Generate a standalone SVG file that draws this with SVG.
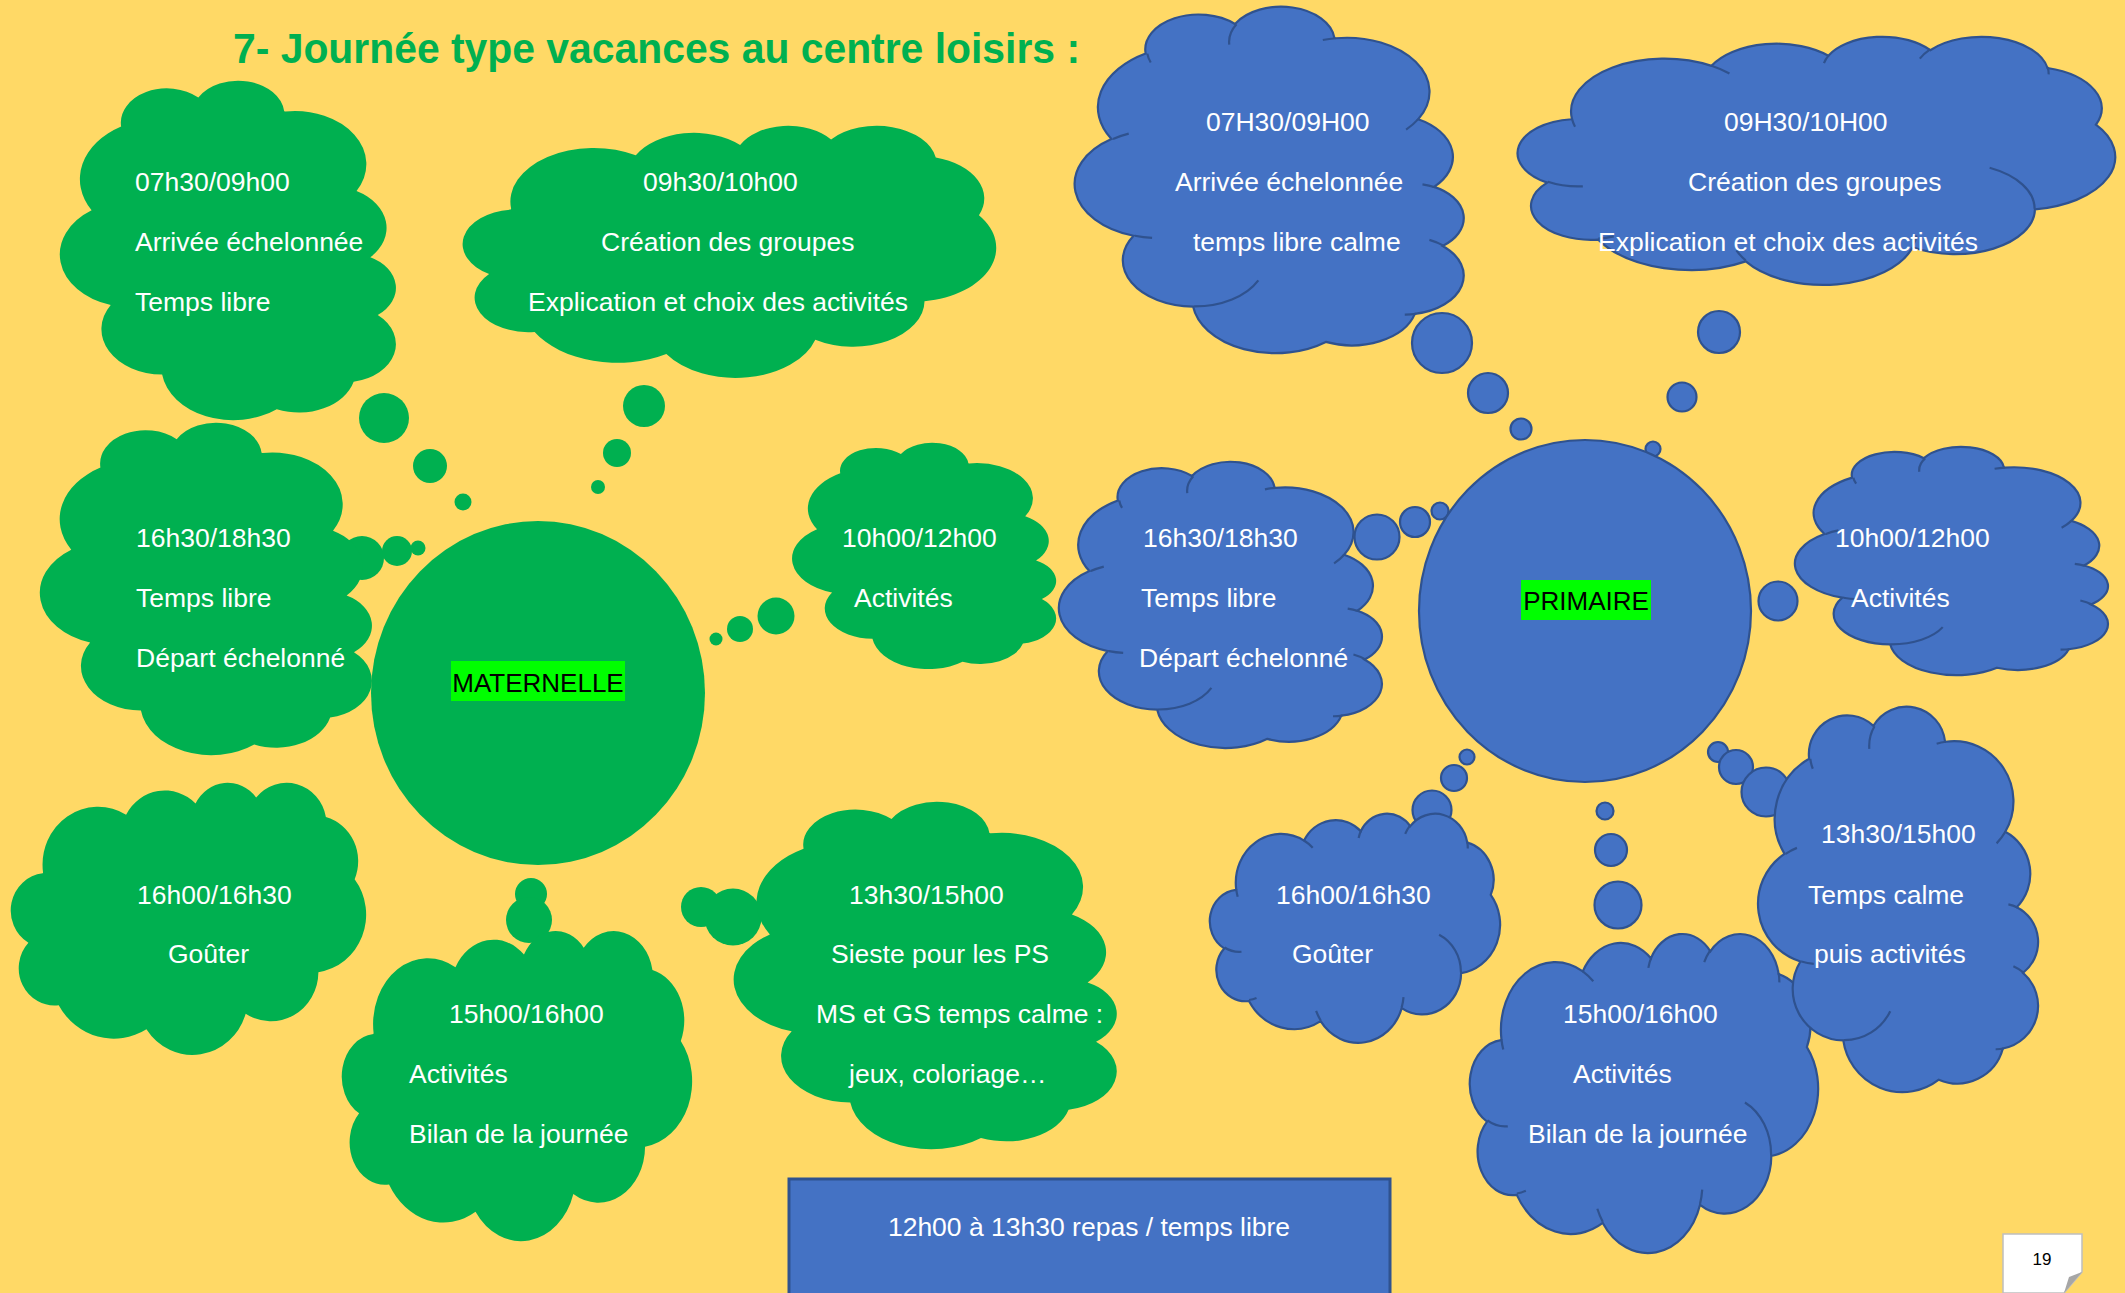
<svg xmlns="http://www.w3.org/2000/svg" xmlns:xlink="http://www.w3.org/1999/xlink" width="2125" height="1293" viewBox="0 0 2125 1293">
<defs>
<style>
.g{fill:#00B050}
.b{fill:#4472C4;stroke:#2F528F;stroke-width:2.2}
.bin{fill:none;stroke:#2F528F;stroke-width:2.2}
.t{font-family:"Liberation Sans",Arial,sans-serif;font-size:26.5px;fill:#FFFFFF}
.lbl{font-family:"Liberation Sans",Arial,sans-serif;font-size:26px;fill:#000000}
.hl{fill:#00FF00}
</style>
<path id="cloud" vector-effect="non-scaling-stroke" d="M9.03 33.26A15.63 21.27 0 0 1 32.42 12.04A12.35 16.82 0 0 1 51.99 7.94A10.10 13.76 0 0 1 69.06 5.73A11.24 15.27 0 0 1 88.70 12.90A12.35 16.84 0 0 1 96.80 35.78A15.68 21.34 0 0 1 86.59 69.90A13.39 18.21 0 0 1 66.10 85.20A15.63 21.33 0 0 1 38.15 90.89A17.87 24.41 0 0 1 13.44 82.10A10.09 13.70 0 0 1 4.90 59.13A10.06 13.76 0 0 1 8.95 33.57Z"/>
<path id="cloudIn" vector-effect="non-scaling-stroke" d="M10.86 60.60A10.06 13.76 0 0 1 5.00 58.75M16.04 80.79A10.09 13.70 0 0 1 13.47 81.67M38.14 90.49A15.63 21.33 0 0 1 36.59 86.45M66.73 80.44A15.63 21.33 0 0 1 66.11 84.86M79.00 53.13A13.39 18.21 0 0 1 86.53 69.65M88.71 12.56A11.24 15.27 0 0 1 88.89 15.48M67.31 9.15A11.24 15.27 0 0 1 69.03 5.41M51.25 10.93A10.10 13.76 0 0 1 52.08 7.71M32.41 12.02A15.63 21.27 0 0 1 35.42 15.14M9.55 36.55A15.63 21.27 0 0 1 9.03 33.26"/>
</defs>
<rect x="0" y="0" width="2125" height="1293" fill="#FFD966"/>
<text x="233" y="63" textLength="847" lengthAdjust="spacingAndGlyphs" style="font-family:'Liberation Sans',Arial,sans-serif;font-size:42px;font-weight:bold;fill:#00B050">7- Journée type vacances au centre loisirs :</text>

<g id="connectors">
<circle class="g" cx="384" cy="418" r="25"/>
<circle class="g" cx="430" cy="466" r="17"/>
<circle class="g" cx="463" cy="502" r="8.5"/>
<circle class="g" cx="644" cy="406" r="21"/>
<circle class="g" cx="617" cy="453" r="14"/>
<circle class="g" cx="598" cy="487" r="7"/>
<circle class="g" cx="362" cy="558" r="22"/>
<circle class="g" cx="397" cy="551" r="15"/>
<circle class="g" cx="418" cy="548" r="7.5"/>
<circle class="g" cx="776" cy="616" r="18.5"/>
<circle class="g" cx="740" cy="629" r="13"/>
<circle class="g" cx="716" cy="639" r="6.5"/>
<circle class="g" cx="308" cy="847" r="19"/>
<circle class="g" cx="328" cy="837" r="13.5"/>
<circle class="g" cx="531" cy="894" r="16"/>
<circle class="g" cx="529" cy="920" r="23"/>
<circle class="g" cx="701" cy="907" r="20"/>
<circle class="g" cx="733" cy="917" r="28.5"/>
<circle class="b" cx="1442" cy="343" r="30"/>
<circle class="b" cx="1488" cy="393" r="20"/>
<circle class="b" cx="1521" cy="429" r="10.5"/>
<circle class="b" cx="1719" cy="332" r="21"/>
<circle class="b" cx="1682" cy="397" r="14.5"/>
<circle class="b" cx="1653" cy="449" r="7.5"/>
<circle class="b" cx="1377" cy="537" r="22.5"/>
<circle class="b" cx="1415" cy="522" r="15"/>
<circle class="b" cx="1440" cy="511" r="8.5"/>
<circle class="b" cx="1778" cy="601" r="19.5"/>
<circle class="b" cx="1718" cy="752" r="10"/>
<circle class="b" cx="1736" cy="767" r="17"/>
<circle class="b" cx="1766" cy="792" r="24.5"/>
<circle class="b" cx="1467" cy="757" r="7.5"/>
<circle class="b" cx="1454" cy="778" r="13"/>
<circle class="b" cx="1432" cy="810" r="19.5"/>
<circle class="b" cx="1605" cy="811" r="8.5"/>
<circle class="b" cx="1611" cy="850" r="16"/>
<circle class="b" cx="1618" cy="905" r="23.5"/>
</g>

<g id="g-0730">
<use xlink:href="#cloud" class="g" transform="translate(397,81) rotate(90) scale(3.39,3.36)"/>
<text class="t" x="135" y="191">07h30/09h00</text>
<text class="t" x="135" y="251">Arrivée échelonnée</text>
<text class="t" x="135" y="311">Temps libre</text>
</g>
<g id="g-0930">
<use xlink:href="#cloud" class="g" transform="translate(463,125) scale(5.33,2.52)"/>
<text class="t" x="643" y="191">09h30/10h00</text>
<text class="t" x="601" y="251">Création des groupes</text>
<text class="t" x="528" y="311">Explication et choix des activités</text>
</g>
<g id="g-1630">
<use xlink:href="#cloud" class="g" transform="translate(373,423) rotate(90) scale(3.32,3.32)"/>
<text class="t" x="136" y="547">16h30/18h30</text>
<text class="t" x="136" y="607">Temps libre</text>
<text class="t" x="136" y="667">Départ échelonné</text>
</g>
<g id="maternelle">
<ellipse class="g" cx="538" cy="693" rx="167" ry="172"/>
<rect class="hl" x="451" y="661" width="174" height="40"/>
<text class="lbl" x="538" y="692" text-anchor="middle">MATERNELLE</text>
</g>
<g id="g-1000">
<use xlink:href="#cloud" class="g" transform="translate(1057,443) rotate(90) scale(2.26,2.64)"/>
<text class="t" x="842" y="547">10h00/12h00</text>
<text class="t" x="854" y="607">Activités</text>
</g>
<g id="g-1600">
<use xlink:href="#cloud" class="g" transform="translate(11,782) scale(3.55,2.72)"/>
<text class="t" x="137" y="904">16h00/16h30</text>
<text class="t" x="168" y="963">Goûter</text>
</g>
<g id="g-1500">
<use xlink:href="#cloud" class="g" transform="translate(342,930) scale(3.50,3.10)"/>
<text class="t" x="449" y="1023">15h00/16h00</text>
<text class="t" x="409" y="1083">Activités</text>
<text class="t" x="409" y="1143">Bilan de la journée</text>
</g>
<g id="g-1330">
<use xlink:href="#cloud" class="g" transform="translate(1118,802) rotate(90) scale(3.47,3.83)"/>
<text class="t" x="849" y="904">13h30/15h00</text>
<text class="t" x="831" y="963">Sieste pour les PS</text>
<text class="t" x="816" y="1023">MS et GS temps calme :</text>
<text class="t" x="849" y="1083">jeux, coloriage…</text>
</g>
<g id="repas">
<rect x="789" y="1179" width="601" height="125" fill="#4472C4" stroke="#2F528F" stroke-width="3"/>
<text class="t" x="1089" y="1236" text-anchor="middle">12h00 à 13h30 repas / temps libre</text>
</g>

<g id="b-0730">
<use xlink:href="#cloud" class="b" transform="translate(1465,7) rotate(90) scale(3.46,3.89)"/>
<use xlink:href="#cloudIn" class="bin" transform="translate(1465,7) rotate(90) scale(3.46,3.89)"/>
<text class="t" x="1206" y="131">07H30/09H00</text>
<text class="t" x="1175" y="191">Arrivée échelonnée</text>
<text class="t" x="1193" y="251">temps libre calme</text>
</g>
<g id="b-0930">
<use xlink:href="#cloud" class="b" transform="translate(1518,36) scale(5.97,2.48)"/>
<use xlink:href="#cloudIn" class="bin" transform="translate(1518,36) scale(5.97,2.48)"/>
<text class="t" x="1724" y="131">09H30/10H00</text>
<text class="t" x="1688" y="191">Création des groupes</text>
<text class="t" x="1598" y="251">Explication et choix des activités</text>
</g>
<g id="primaire">
<ellipse class="b" cx="1585" cy="611" rx="166" ry="171"/>
<rect class="hl" x="1521" y="580" width="130" height="40"/>
<text class="lbl" x="1586" y="610" text-anchor="middle">PRIMAIRE</text>
</g>
<g id="b-1630">
<use xlink:href="#cloud" class="b" transform="translate(1383,462) rotate(90) scale(2.86,3.23)"/>
<use xlink:href="#cloudIn" class="bin" transform="translate(1383,462) rotate(90) scale(2.86,3.23)"/>
<text class="t" x="1143" y="547">16h30/18h30</text>
<text class="t" x="1141" y="607">Temps libre</text>
<text class="t" x="1139" y="667">Départ échelonné</text>
</g>
<g id="b-1000">
<use xlink:href="#cloud" class="b" transform="translate(2109,447) rotate(90) scale(2.28,3.13)"/>
<use xlink:href="#cloudIn" class="bin" transform="translate(2109,447) rotate(90) scale(2.28,3.13)"/>
<text class="t" x="1835" y="547">10h00/12h00</text>
<text class="t" x="1851" y="607">Activités</text>
</g>
<g id="b-1500">
<use xlink:href="#cloud" class="b" transform="translate(1470,933) scale(3.48,3.19)"/>
<use xlink:href="#cloudIn" class="bin" transform="translate(1470,933) scale(3.48,3.19)"/>
<text class="t" x="1563" y="1023">15h00/16h00</text>
<text class="t" x="1573" y="1083">Activités</text>
<text class="t" x="1528" y="1143">Bilan de la journée</text>
</g>
<g id="b-1330">
<use xlink:href="#cloud" class="b" transform="translate(2039,707) rotate(90) scale(3.85,2.80)"/>
<use xlink:href="#cloudIn" class="bin" transform="translate(2039,707) rotate(90) scale(3.85,2.80)"/>
<text class="t" x="1821" y="843">13h30/15h00</text>
<text class="t" x="1808" y="904">Temps calme</text>
<text class="t" x="1814" y="963">puis activités</text>
</g>
<g id="b-1600">
<use xlink:href="#cloud" class="b" transform="translate(1210,813) scale(2.90,2.29)"/>
<use xlink:href="#cloudIn" class="bin" transform="translate(1210,813) scale(2.90,2.29)"/>
<text class="t" x="1276" y="904">16h00/16h30</text>
<text class="t" x="1292" y="963">Goûter</text>
</g>

<g id="page">
<path d="M2003 1234H2082V1272L2064 1293H2003Z" fill="#FFFFFF" stroke="#BFBFBF" stroke-width="1.5"/>
<path d="M2082 1272L2069 1277L2064 1293Z" fill="#A6A6A6"/>
<text x="2042" y="1265" text-anchor="middle" style="font-family:'Liberation Sans',Arial,sans-serif;font-size:17px;fill:#000">19</text>
</g>
</svg>
